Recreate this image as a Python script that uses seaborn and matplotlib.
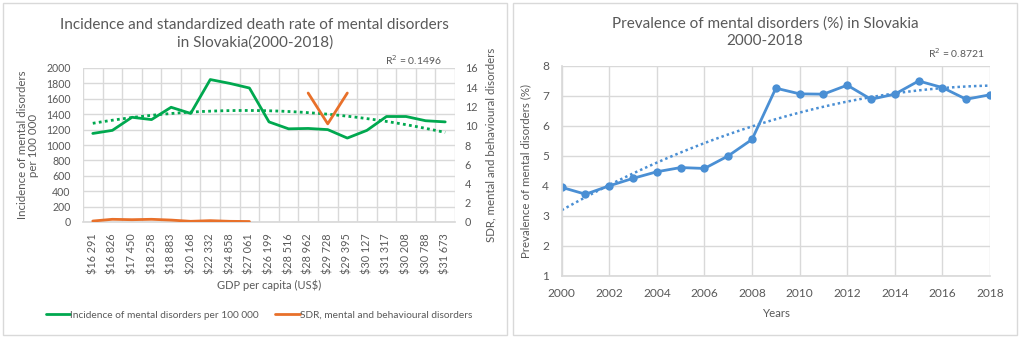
import matplotlib
matplotlib.use("Agg")
import matplotlib.pyplot as plt
import seaborn as sns
import numpy as np
import pandas as pd
from matplotlib.patches import Rectangle
from matplotlib.lines import Line2D

# left panel data
gdp_labels = ["$16 291", "$16 826", "$17 450", "$18 258", "$18 883", "$20 168", "$22 332",
              "$24 858", "$27 061", "$26 199", "$28 516", "$28 962", "$29 728", "$29 395",
              "$30 127", "$31 317", "$30 208", "$30 788", "$31 673"]
incidence = [1150, 1190, 1360, 1330, 1490, 1410, 1850, 1800, 1740, 1300,
             1210, 1215, 1200, 1090, 1190, 1370, 1370, 1315, 1300]
sdr_early = [0.10, 0.28, 0.24, 0.28, 0.20, 0.07, 0.14, 0.07, 0.05]
sdr_late = [13.4, 10.2, 13.4]
sdr_late_start = 11

# right panel data
years = list(range(2000, 2019))
prevalence = [3.95, 3.72, 4.00, 4.25, 4.47, 4.61, 4.58, 5.00, 5.55, 7.26,
              7.07, 7.06, 7.36, 6.89, 7.06, 7.50, 7.28, 6.89, 7.04]

GREEN = "#00A84F"
ORANGE = "#E8702A"
BLUE = "#4A8FD4"
TXT = "#595959"
GRID = "#D9D9D9"

sns.set_theme(style="white")
plt.rcParams["font.family"] = ["Lato", "DejaVu Sans"]
plt.rcParams["text.color"] = TXT
plt.rcParams["axes.labelcolor"] = TXT
plt.rcParams["xtick.color"] = TXT
plt.rcParams["ytick.color"] = TXT

fig = plt.figure(figsize=(10.21, 3.38), dpi=100)

# panel frames
for x0 in (3 / 1021, 513 / 1021):
    fig.patches.append(Rectangle((x0, 3 / 338), 504 / 1021, 332 / 338, transform=fig.transFigure,
                                 fill=False, edgecolor=GRID, lw=1))

# ---------------- left ----------------
ax = fig.add_axes([83 / 1021, 1 - 222 / 338, 372 / 1021, 154 / 338])
df_left = pd.DataFrame({"pos": np.arange(len(incidence)), "incidence": incidence})
sns.lineplot(data=df_left, x="pos", y="incidence", color=GREEN, lw=2, ax=ax)
sns.regplot(data=df_left, x="pos", y="incidence", order=2, scatter=False, ci=None, ax=ax,
            line_kws={"color": GREEN, "lw": 2, "ls": (0, (1, 1.2))})
ax.set_xlim(-0.5, len(incidence) - 0.5)
ax.set_ylim(0, 2000)
ax.set_yticks(range(0, 2001, 200))
ax.set_xticks(range(len(gdp_labels)))
ax.set_xticklabels(gdp_labels, rotation=90, fontsize=7.8)
ax.set_xticks(np.arange(-0.5, len(gdp_labels)), minor=True)
ax.tick_params(axis="y", labelsize=7.6, length=0, pad=9)
ax.tick_params(axis="x", which="both", length=0, pad=8)
ax.grid(axis="y", color=GRID, lw=1)
ax.grid(axis="x", which="minor", color=GRID, lw=1)
ax.set_axisbelow(True)
for s in ax.spines.values():
    s.set_visible(False)
ax.spines["bottom"].set_visible(True)
ax.spines["bottom"].set_color(GRID)
ax.set_xlabel("GDP per capita (US$)", fontsize=8, labelpad=4)
ax.set_ylabel("Incidence of mental disorders\nper 100 000", fontsize=8.3, labelpad=5, linespacing=1.05)
ax.set_title("Incidence and standardized death rate of mental disorders\nin Slovakia(2000-2018)",
             fontsize=11, color=TXT, pad=15, linespacing=1.3, x=0.462)
ax.text(0.965, 1.05, "R$^2$ = 0.1496", transform=ax.transAxes, ha="right", va="center", fontsize=7.5)

ax2 = ax.twinx()
df_e = pd.DataFrame({"pos": np.arange(len(sdr_early)), "sdr": sdr_early})
df_l = pd.DataFrame({"pos": np.arange(sdr_late_start, sdr_late_start + len(sdr_late)), "sdr": sdr_late})
sns.lineplot(data=df_e, x="pos", y="sdr", color=ORANGE, lw=2, ax=ax2)
sns.lineplot(data=df_l, x="pos", y="sdr", color=ORANGE, lw=2, ax=ax2)
ax2.set_ylim(0, 16)
ax2.set_yticks(range(0, 17, 2))
ax2.tick_params(axis="y", labelsize=7.8, length=0, pad=7)
for s in ax2.spines.values():
    s.set_visible(False)
ax2.set_ylabel("SDR, mental and behavioural disorders", fontsize=8.3, labelpad=6)
ax2.set_xlim(-0.5, len(incidence) - 0.5)

handles = [Line2D([], [], color=GREEN, lw=2), Line2D([], [], color=ORANGE, lw=2)]
fig.legend(handles, ["Incidence of mental disorders per 100 000", "SDR, mental and behavioural disorders"],
           loc="center", bbox_to_anchor=(259 / 1021, 1 - 315 / 338), ncol=2, frameon=False,
           fontsize=7.3, handlelength=2.4, handletextpad=0.05, columnspacing=1.6)

# ---------------- right ----------------
bx = fig.add_axes([561.7 / 1021, 1 - 275.7 / 338, 428.3 / 1021, 209.7 / 338])
df_right = pd.DataFrame({"year": years, "prevalence": prevalence})
sns.lineplot(data=df_right, x="year", y="prevalence", color=BLUE, lw=2, marker="o",
             markersize=6, markeredgewidth=0, ax=bx)
sns.regplot(data=df_right, x="year", y="prevalence", order=2, scatter=False, ci=None, ax=bx,
            line_kws={"color": BLUE, "lw": 1.8, "ls": (0, (1, 1.2))})
bx.set_xlim(2000, 2018)
bx.set_ylim(1, 8)
bx.set_xticks(range(2000, 2019, 2))
bx.set_yticks(range(1, 9))
bx.tick_params(axis="both", labelsize=8.6, length=0)
bx.tick_params(axis="x", pad=9)
bx.tick_params(axis="y", pad=9)
bx.grid(True, color=GRID, lw=1)
bx.set_axisbelow(True)
for s in bx.spines.values():
    s.set_visible(False)
bx.spines["bottom"].set_visible(True)
bx.spines["bottom"].set_color(GRID)
bx.spines["left"].set_visible(True)
bx.spines["left"].set_color(GRID)
bx.set_xlabel("Years", fontsize=8.3, labelpad=6)
bx.set_ylabel("Prevalence of mental disorders (%)", fontsize=8.3, labelpad=8)
bx.set_title("Prevalence of mental disorders (%) in Slovakia\n2000-2018",
             fontsize=11, color=TXT, pad=15, linespacing=1.3, x=0.475)
bx.text(0.988, 1.062, "R$^2$ = 0.8721", transform=bx.transAxes, ha="right", va="center", fontsize=7.5)

fig.savefig("out.png", dpi=100)
